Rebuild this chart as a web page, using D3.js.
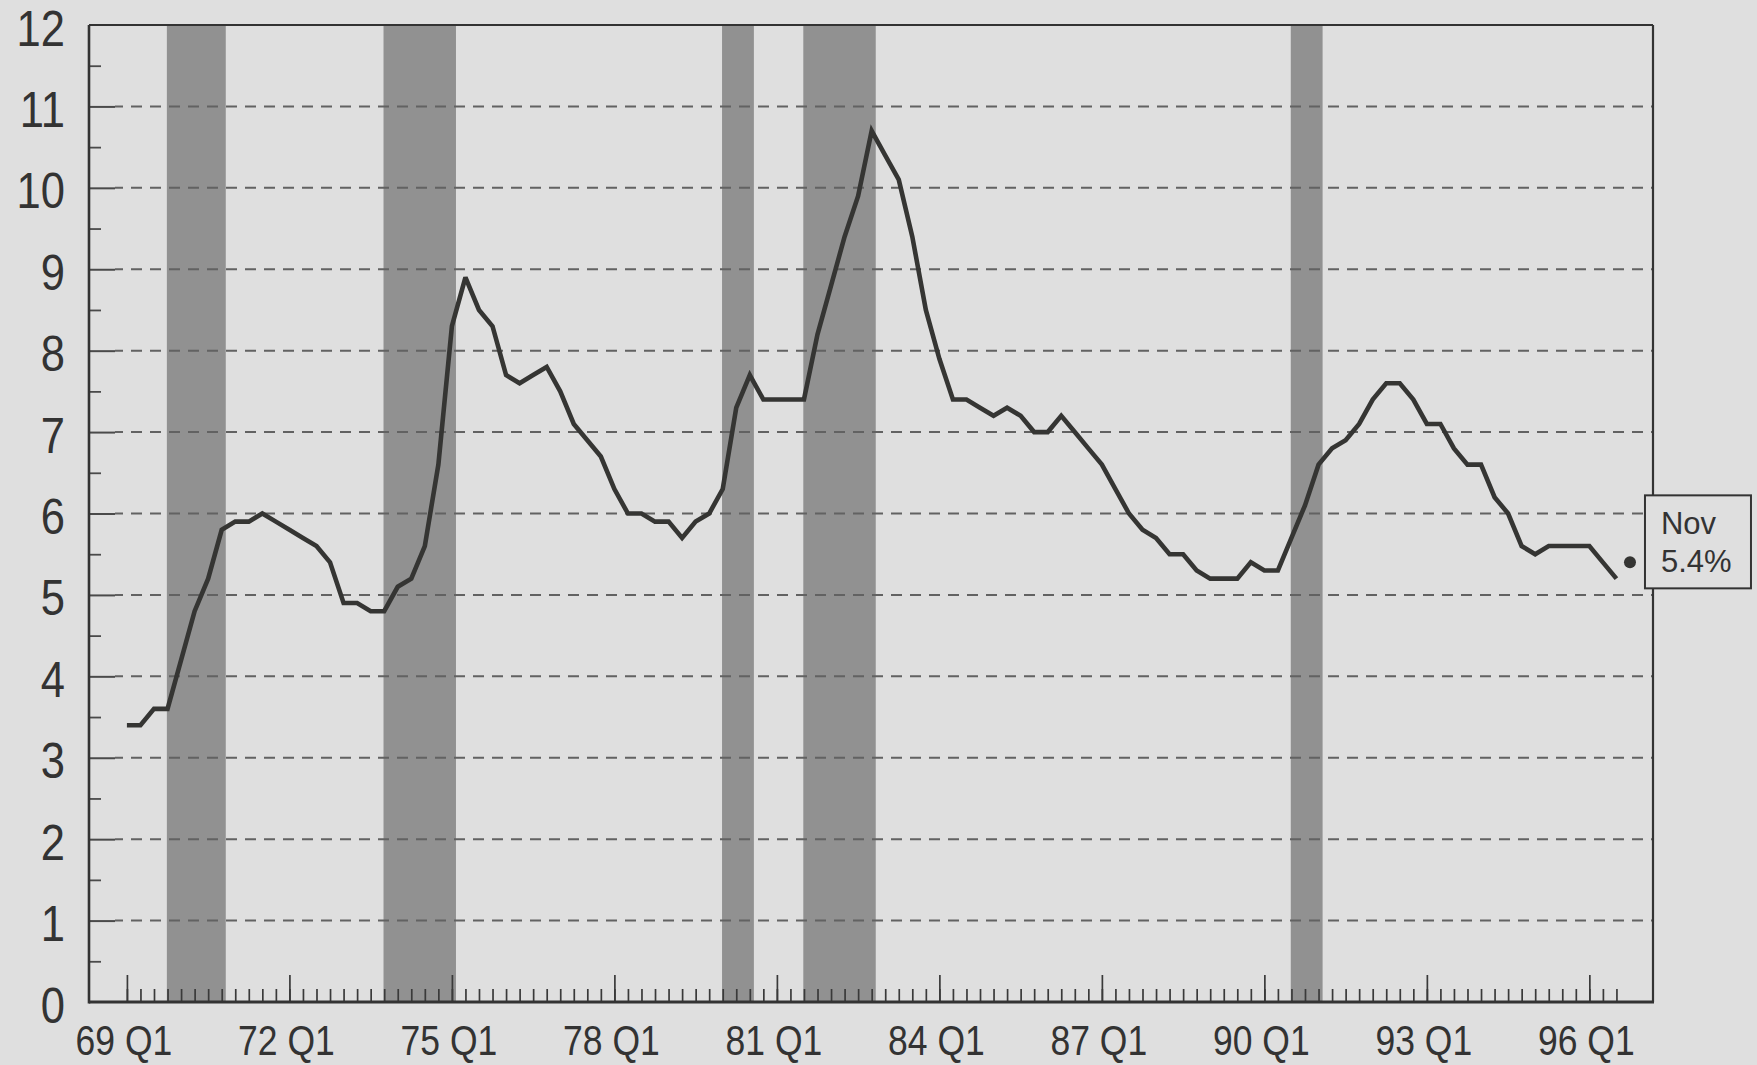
<!DOCTYPE html>
<html>
<head>
<meta charset="utf-8">
<script src="https://cdn.jsdelivr.net/npm/d3@7"></script>
<style>
  html, body { margin: 0; padding: 0; background: #dfdfdf; }
  svg { display: block; }
  text { font-family: "Liberation Sans", Arial, "Helvetica", sans-serif; fill: #333; }
</style>
</head>
<body>
<svg id="chart" width="1757" height="1065"></svg>
<script>
// ---- DATA ----
const startYear = 1969;
// Quarterly unemployment rate, 69 Q1 ... 96 Q3
const unemployment = [
  3.4, 3.4, 3.6, 3.6,   // 1969
  4.2, 4.8, 5.2, 5.8,   // 1970
  5.9, 5.9, 6.0, 5.9,   // 1971
  5.8, 5.7, 5.6, 5.4,   // 1972
  4.9, 4.9, 4.8, 4.8,   // 1973
  5.1, 5.2, 5.6, 6.6,   // 1974
  8.3, 8.9, 8.5, 8.3,   // 1975
  7.7, 7.6, 7.7, 7.8,   // 1976
  7.5, 7.1, 6.9, 6.7,   // 1977
  6.3, 6.0, 6.0, 5.9,   // 1978
  5.9, 5.7, 5.9, 6.0,   // 1979
  6.3, 7.3, 7.7, 7.4,   // 1980
  7.4, 7.4, 7.4, 8.2,   // 1981
  8.8, 9.4, 9.9, 10.7,  // 1982
  10.4, 10.1, 9.4, 8.5, // 1983
  7.9, 7.4, 7.4, 7.3,   // 1984
  7.2, 7.3, 7.2, 7.0,   // 1985
  7.0, 7.2, 7.0, 6.8,   // 1986
  6.6, 6.3, 6.0, 5.8,   // 1987
  5.7, 5.5, 5.5, 5.3,   // 1988
  5.2, 5.2, 5.2, 5.4,   // 1989
  5.3, 5.3, 5.7, 6.1,   // 1990
  6.6, 6.8, 6.9, 7.1,   // 1991
  7.4, 7.6, 7.6, 7.4,   // 1992
  7.1, 7.1, 6.8, 6.6,   // 1993
  6.6, 6.2, 6.0, 5.6,   // 1994
  5.5, 5.6, 5.6, 5.6,   // 1995
  5.6, 5.4, 5.2         // 1996
];
const xTickLabels = ["69 Q1","72 Q1","75 Q1","78 Q1","81 Q1","84 Q1","87 Q1","90 Q1","93 Q1","96 Q1"];
const yTickValues = [0,1,2,3,4,5,6,7,8,9,10,11,12];
const recessions = [
  ["69 Q4","70 Q4"],
  ["73 Q4","75 Q1"],
  ["80 Q1","80 Q3"],
  ["81 Q3","82 Q4"],
  ["90 Q3","91 Q1"]
];
const latestLabel = "Nov";
const latestText = "5.4%";
const latestValue = 5.4;
const latestQuarter = "96 Q4";

// ---- HELPERS ----
function qIndex(label) {
  const [yy, q] = label.split(" ");
  return (1900 + +yy - startYear) * 4 + (+q.slice(1) - 1);
}

// ---- LAYOUT ----
const W = 1757, H = 1065;
const plot = { left: 89, right: 1653, top: 25, bottom: 1002 };

const x = d3.scaleLinear().domain([-2.8, 112.7]).range([plot.left, plot.right]);
const y = d3.scaleLinear().domain([0, 12]).range([plot.bottom, plot.top]);
const step = x(1) - x(0);

const svg = d3.select("#chart");

svg.append("rect").attr("width", W).attr("height", H).attr("fill", "#dfdfdf");

// recession bars
svg.append("g").selectAll("rect")
  .data(recessions)
  .join("rect")
  .attr("x", d => x(qIndex(d[0])) - 0.05 * step)
  .attr("width", d => x(qIndex(d[1])) - x(qIndex(d[0])) + 0.35 * step)
  .attr("y", plot.top)
  .attr("height", plot.bottom - plot.top)
  .attr("fill", "#919191");

// dashed gridlines
svg.append("g").selectAll("line")
  .data(yTickValues.filter(v => v > 0 && v < 12))
  .join("line")
  .attr("x1", plot.left + 26).attr("x2", plot.right)
  .attr("y1", d => y(d)).attr("y2", d => y(d))
  .attr("stroke", "#626262")
  .attr("stroke-width", 2)
  .attr("stroke-dasharray", "11,8")
  .attr("stroke-dashoffset", -16);

// y axis major ticks (inward)
const yAxisMajor = d3.axisRight(y).tickValues(yTickValues.filter(v => v > 0 && v < 12)).tickSize(26).tickFormat("");
const gYMaj = svg.append("g").attr("transform", `translate(${plot.left},0)`).call(yAxisMajor);
gYMaj.select(".domain").remove();
gYMaj.selectAll("line").attr("stroke", "#4a4a4a").attr("stroke-width", 2);

// y axis minor ticks
const yAxisMinor = d3.axisRight(y).tickValues(d3.range(0.5, 12, 1)).tickSize(12).tickFormat("");
const gYMin = svg.append("g").attr("transform", `translate(${plot.left},0)`).call(yAxisMinor);
gYMin.select(".domain").remove();
gYMin.selectAll("line").attr("stroke", "#4a4a4a").attr("stroke-width", 1.8);

// y labels
svg.append("g").selectAll("text")
  .data(yTickValues)
  .join("text")
  .attr("transform", d => `translate(65,${y(d) + 20.5}) scale(0.87,1)`)
  .attr("text-anchor", "end")
  .attr("font-size", 50)
  .text(d => d);

// x axis quarter ticks
const nQ = unemployment.length;
const xAxisMinor = d3.axisTop(x).tickValues(d3.range(0, nQ)).tickSize(13).tickFormat("");
const gXMin = svg.append("g").attr("transform", `translate(0,${plot.bottom})`).call(xAxisMinor);
gXMin.select(".domain").remove();
gXMin.selectAll("line").attr("stroke", "#3a3a3a").attr("stroke-width", 1.7);

const majorIdx = xTickLabels.map(qIndex);
const xAxisMajor = d3.axisTop(x).tickValues(majorIdx).tickSize(27).tickFormat("");
const gXMaj = svg.append("g").attr("transform", `translate(0,${plot.bottom})`).call(xAxisMajor);
gXMaj.select(".domain").remove();
gXMaj.selectAll("line").attr("stroke", "#3a3a3a").attr("stroke-width", 1.7);

// x labels
svg.append("g").selectAll("text")
  .data(xTickLabels)
  .join("text")
  .attr("transform", d => `translate(${x(qIndex(d)) - 3},1055) scale(0.845,1)`)
  .attr("text-anchor", "middle")
  .attr("font-size", 42)
  .text(d => d);

// plot border
svg.append("line").attr("x1", plot.left).attr("x2", plot.right).attr("y1", plot.top).attr("y2", plot.top)
  .attr("stroke", "#333").attr("stroke-width", 2.2);
svg.append("line").attr("x1", plot.right).attr("x2", plot.right).attr("y1", plot.top).attr("y2", plot.bottom)
  .attr("stroke", "#333").attr("stroke-width", 2.2);
svg.append("line").attr("x1", plot.left).attr("x2", plot.left).attr("y1", plot.top).attr("y2", plot.bottom + 1.5)
  .attr("stroke", "#333").attr("stroke-width", 2.6);
svg.append("line").attr("x1", plot.left).attr("x2", plot.right + 1).attr("y1", plot.bottom).attr("y2", plot.bottom)
  .attr("stroke", "#333").attr("stroke-width", 3);

// data line
const line = d3.line().x((d, i) => x(i)).y(d => y(d));
svg.append("path")
  .datum(unemployment)
  .attr("d", line)
  .attr("fill", "none")
  .attr("stroke", "#353533")
  .attr("stroke-width", 4.6)
  .attr("stroke-linejoin", "miter")
  .attr("stroke-miterlimit", 3);

// latest value marker + annotation
const dx = x(qIndex(latestQuarter)), dy = y(latestValue);
svg.append("circle").attr("cx", dx).attr("cy", dy).attr("r", 6).attr("fill", "#353533");
svg.append("rect")
  .attr("x", dx + 15).attr("y", dy - 67)
  .attr("width", 106).attr("height", 93)
  .attr("fill", "#dfdfdf").attr("stroke", "#333").attr("stroke-width", 2);
svg.append("text").attr("x", dx + 31).attr("y", dy - 28).attr("font-size", 31).text(latestLabel);
svg.append("text").attr("x", dx + 31).attr("y", dy + 10).attr("font-size", 31).text(latestText);
</script>
</body>
</html>
